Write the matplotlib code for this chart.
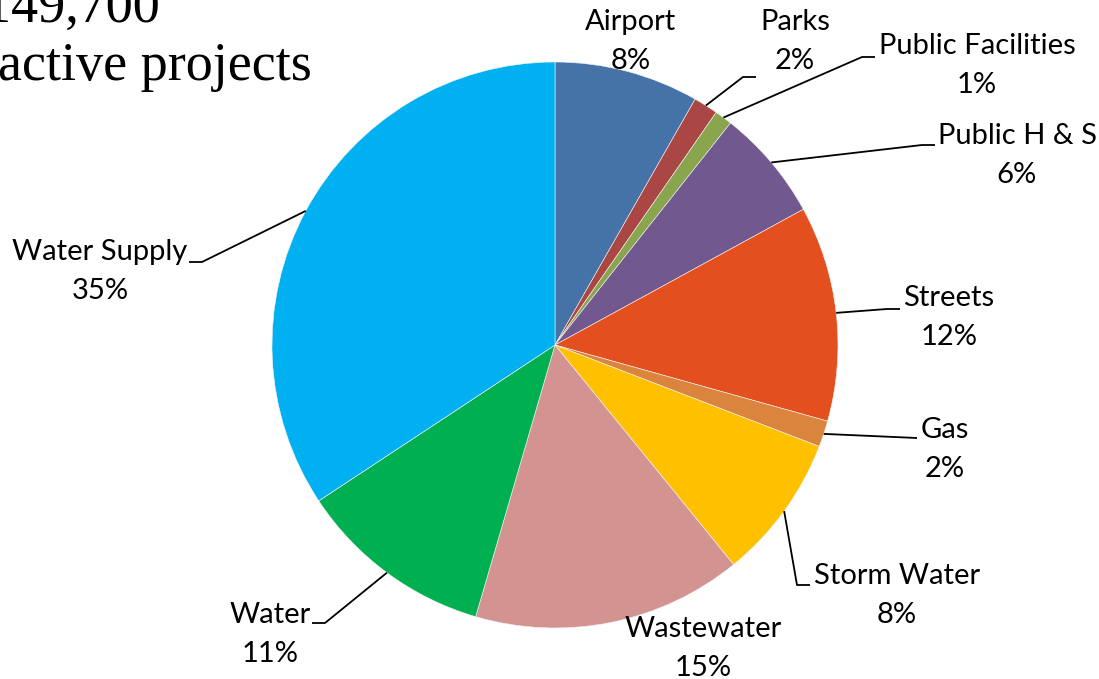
import numpy as np
import matplotlib.pyplot as plt

# slices, clockwise from 12 o'clock (percent of total)
labels = ['Airport', 'Parks', 'Public Facilities', 'Public H & S', 'Streets',
          'Gas', 'Storm Water', 'Wastewater', 'Water', 'Water Supply']
values = [8.25, 1.4, 1.0, 6.4, 12.3, 1.5, 8.3, 15.4, 11.2, 34.3]
pct_text = ['8%', '2%', '1%', '6%', '12%', '2%', '8%', '15%', '11%', '35%']
colors = ['#4572A7', '#AA4643', '#89A54E', '#71588F', '#E34F1F',
          '#DB843D', '#FFC000', '#D39391', '#00B050', '#00B0F0']

W, H = 1099, 679
cx, cy, R = 555, 345, 283

# label layout in pixels: (text x, name y), elbow point or None, side of elbow tick
label_pos = [(631, 22), (795, 22), (977, 46), (1017, 136), (949, 298),
             (945, 430), (897, 576), (703, 629), (270, 615), (100, 252)]
elbows = [None, (743, 77), (862, 57), (922, 145), (887, 309),
          (917, 438), (797, 585), None, (325, 623), (202, 262)]
tick_dir = [0, 1, 1, 1, 1, 0, 1, 0, -1, -1]

fig = plt.figure(figsize=(W / 100, H / 100), dpi=100)
ax = fig.add_axes([0, 0, 1, 1])
ax.axis('off')

def fy(y):
    return H - y

wedges, _ = ax.pie(values, colors=colors, startangle=90, counterclock=False,
                   radius=R, center=(cx, fy(cy)),
                   wedgeprops=dict(linewidth=0.4, edgecolor='#f4f4f4'))
ax.set_xlim(0, W)
ax.set_ylim(0, H)
ax.set_aspect('equal')

lab_font = dict(family=['Lato', 'DejaVu Sans'], fontsize=21, color='black')

for w, name, pct, (tx, ty), elb, d in zip(wedges, labels, pct_text, label_pos, elbows, tick_dir):
    ax.text(tx, fy(ty), name, ha='center', va='center', **lab_font)
    ax.text(tx, fy(ty + 39), pct, ha='center', va='center', **lab_font)
    if elb is not None:
        mid = np.deg2rad((w.theta1 + w.theta2) / 2)
        sx = cx + R * np.cos(mid)
        sy = fy(cy) + R * np.sin(mid)
        ex, ey = elb
        ax.plot([sx, ex, ex + 13 * d], [sy, fy(ey), fy(ey)], color='black', lw=1.3,
                solid_capstyle='butt')

title_font = dict(family=['Liberation Serif', 'DejaVu Serif'], fontsize=39, color='black')
ax.text(160, fy(22), '$149,700', ha='right', va='baseline', **title_font)
ax.text(312, fy(80), 'active projects', ha='right', va='baseline', **title_font)

plt.savefig('out.png', dpi=100)
